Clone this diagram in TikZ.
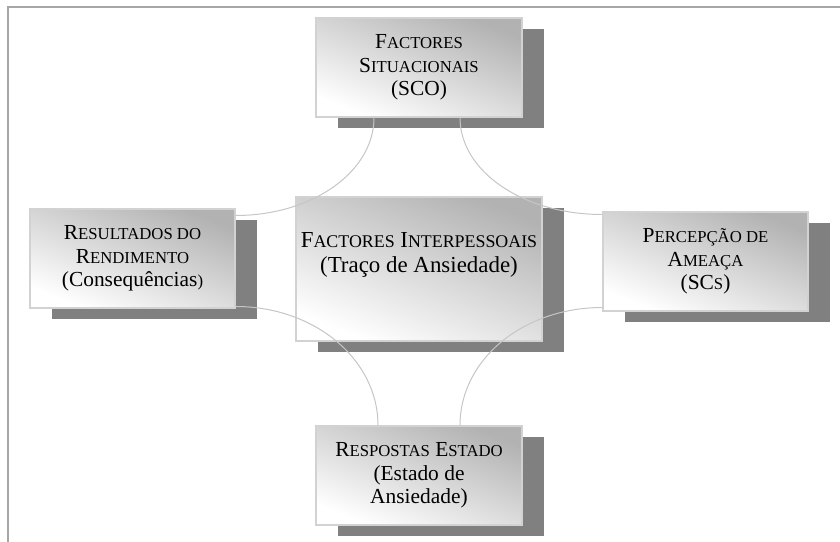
\documentclass[tikz,border=0pt]{standalone}
\usepackage{fontspec}
\setmainfont{Liberation Serif}
\usetikzlibrary{positioning,shadows}
\definecolor{shadowgray}{gray}{0.5}
\makeatletter
\newdimen\capdim
% Word-style small capitals
\newcommand{\capsm}[1]{{\capdim=\f@size pt\capdim=0.78\capdim\fontsize{\strip@pt\capdim}{\f@baselineskip}\selectfont #1}}
\makeatother

\begin{document}
\begin{tikzpicture}[x=1bp,y=1bp]
\tikzset{box/.style={draw=gray!35,line width=1.2bp,top color=gray!60,middle color=gray!8,bottom color=white,shading angle=-22,
    minimum width=206bp,minimum height=99bp,inner sep=0pt,align=center,font=\fontsize{21.5}{23.5}\selectfont,
    drop shadow={shadow xshift=22bp,shadow yshift=-11bp,fill=shadowgray,opacity=1}},
  link/.style={draw=gray!45,line width=1bp}}
\useasboundingbox (0,0) rectangle (840,542);
\draw[gray!70,line width=2bp] (840,535) -- (8,535) -- (8,0);

\node[box,minimum width=246bp,minimum height=144bp,font=\fontsize{23}{25}\selectfont] (inter) at (419,273)
  {F\capsm{ACTORES} I\capsm{NTERPESSOAIS}\\(Traço de Ansiedade)\\[8bp]};
\node[box] (sco) at (419,474.5) {F\capsm{ACTORES}\\S\capsm{ITUACIONAIS}\\(SCO)};
\node[box,minimum width=205bp] (res) at (132.5,283.5) {R\capsm{ESULTADOS DO}\\R\capsm{ENDIMENTO}\\(Consequências\capsm{)}};
\node[box,minimum width=205bp] (per) at (705.5,280.5) {P\capsm{ERCEPÇÃO DE}\\A\capsm{MEAÇA}\\(SC\capsm{S})};
\node[box] (est) at (419,66.5) {R\capsm{ESPOSTAS} E\capsm{STADO}\\(Estado de\\Ansiedade)};

% connectors
\draw[link] ([xshift=-45bp]sco.south) to[out=-90,in=0,out distance=54bp,in distance=77bp] ([yshift=43bp]res.east);
\draw[link] ([xshift=41bp]sco.south) to[out=-90,in=180,out distance=54bp,in distance=79bp] ([yshift=47bp]per.west);
\draw[link] ([xshift=-41bp]est.north) to[out=90,in=0,out distance=66bp,in distance=79bp] ([yshift=-48bp]res.east);
\draw[link] ([xshift=41bp]est.north) to[out=90,in=180,out distance=66bp,in distance=79bp] ([yshift=-46bp]per.west);
\end{tikzpicture}
\end{document}
